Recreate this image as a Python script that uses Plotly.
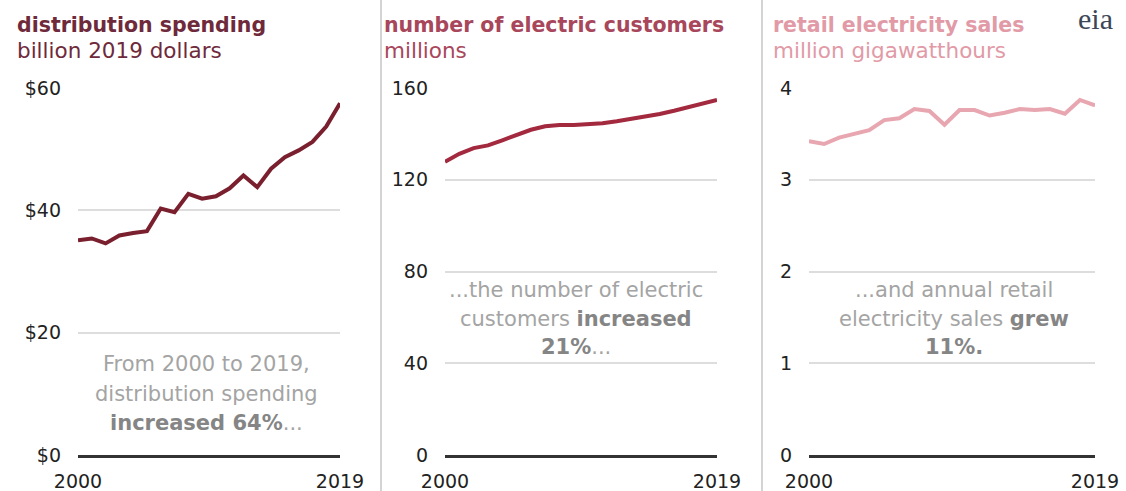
import plotly.graph_objects as go

# ---- data -------------------------------------------------------------
years = list(range(2000, 2020))

spending = [35.1, 35.4, 34.6, 35.9, 36.3, 36.6, 40.3, 39.7, 42.7, 41.9,
            42.3, 43.6, 45.7, 43.8, 46.8, 48.7, 49.8, 51.2, 53.7, 57.5]

customers = [127.8, 131.3, 133.8, 135.0, 137.2, 139.6, 141.8, 143.3, 143.9, 143.9,
             144.3, 144.6, 145.5, 146.5, 147.5, 148.7, 150.1, 151.6, 153.2, 154.8]

sales = [3.42, 3.39, 3.46, 3.50, 3.54, 3.65, 3.67, 3.77, 3.75, 3.60,
         3.76, 3.76, 3.70, 3.73, 3.77, 3.76, 3.77, 3.72, 3.87, 3.81]

x_ticks = [2000, 2019]
y1_ticks = [0, 20, 40, 60]
y1_labels = ["$0", "$20", "$40", "$60"]
y2_ticks = [0, 40, 80, 120, 160]
y3_ticks = [0, 1, 2, 3, 4]

titles = ["distribution spending", "number of electric customers", "retail electricity sales"]
units = ["billion 2019 dollars", "millions", "million gigawatthours"]

# ---- style ------------------------------------------------------------
W, H = 1126, 491
FONT = "DejaVu Sans, Arial, sans-serif"
line_colors = ["#7a1f2e", "#a3293e", "#e8a6b0"]
title_colors = ["#6e2a3b", "#a8465b", "#e19aa6"]
GRID = "#dddddd"
AXIS = "#333333"
NOTE = "#a4a4a4"
NOTE_B = "#858585"

def px_x(p):
    return p / W

def px_y(p):
    return 1 - p / H

# plot areas in pixel units (left, right); shared vertical extent
x_dom_px = [(78, 340), (445, 717), (809, 1095)]
y_dom = [px_y(455), px_y(88)]

fig = go.Figure()

series = [spending, customers, sales]
for i, vals in enumerate(series):
    suffix = "" if i == 0 else str(i + 1)
    fig.add_trace(go.Scatter(
        x=years, y=vals, mode="lines",
        line=dict(color=line_colors[i], width=4),
        xaxis="x" + suffix, yaxis="y" + suffix,
        hoverinfo="skip", showlegend=False,
    ))

y_cfg = [
    dict(range=[0, 60], tickvals=y1_ticks, ticktext=y1_labels),
    dict(range=[0, 160], tickvals=y2_ticks),
    dict(range=[0, 4], tickvals=y3_ticks),
]

for i in range(3):
    suffix = "" if i == 0 else str(i + 1)
    xl, xr = x_dom_px[i]
    fig.update_layout(**{
        "xaxis" + suffix: dict(
            domain=[px_x(xl), px_x(xr)],
            anchor="y" + suffix,
            range=[2000, 2019],
            tickvals=x_ticks,
            showgrid=False, zeroline=False,
            showline=True, linecolor=AXIS, linewidth=2.5,
            ticks="inside", ticklen=6, tickwidth=2, tickcolor=AXIS,
            tickfont=dict(family=FONT, size=19, color="#222222"),
            ticklabelstandoff=7,
            automargin=False,
        ),
        "yaxis" + suffix: dict(
            domain=y_dom,
            anchor="x" + suffix,
            showgrid=True, gridcolor=GRID, gridwidth=1.5,
            zeroline=False, showline=False, ticks="",
            tickfont=dict(family=FONT, size=19, color="#222222"),
            ticklabelstandoff=16,
            automargin=False,
            **y_cfg[i],
        ),
    })

# panel headings
title_x = [15, 382, 771]
ann = []
for i in range(3):
    ann.append(dict(
        xref="paper", yref="paper", x=px_x(title_x[i]), y=px_y(25),
        xanchor="left", yanchor="middle", showarrow=False,
        text="<b>" + titles[i] + "</b>",
        font=dict(family=FONT, size=20.5, color=title_colors[i]),
    ))
    ann.append(dict(
        xref="paper", yref="paper", x=px_x(title_x[i]), y=px_y(51),
        xanchor="left", yanchor="middle", showarrow=False,
        text=units[i],
        font=dict(family=FONT, size=21.5, color=title_colors[i]),
    ))

def b(t):
    return "<b><span style='color:%s'>%s</span></b>" % (NOTE_B, t)

notes = [
    (206, ["From 2000 to 2019,", "distribution spending", b("increased 64%") + "..."]),
    (576, ["...the number of electric", "customers " + b("increased"), b("21%") + "..."]),
    (954, ["...and annual retail", "electricity sales " + b("grew"), b("11%.")]),
]
note_rows = [[364, 394, 423], [290, 319, 347], [290, 319, 347]]
for (cx, lines), rows in zip(notes, note_rows):
    for txt, ry in zip(lines, rows):
        ann.append(dict(
            xref="paper", yref="paper", x=px_x(cx), y=px_y(ry),
            xanchor="center", yanchor="middle", showarrow=False,
            text=txt, font=dict(family=FONT, size=21, color=NOTE),
        ))

# agency wordmark
ann.append(dict(
    xref="paper", yref="paper", x=px_x(1076), y=1,
    xanchor="left", yanchor="top", showarrow=False,
    text="eia", font=dict(family="Liberation Serif, serif", size=30, color="#3c4657"),
))

# panel separators
shapes = []
for sx in (381, 762):
    shapes.append(dict(
        type="line", xref="paper", yref="paper",
        x0=px_x(sx), x1=px_x(sx), y0=0, y1=1,
        line=dict(color="#d4d4d4", width=2),
    ))

fig.update_layout(
    width=W, height=H,
    margin=dict(l=0, r=0, t=0, b=0, pad=0),
    paper_bgcolor="white", plot_bgcolor="white",
    annotations=ann, shapes=shapes,
    showlegend=False,
)

fig.write_html("out.html", include_plotlyjs=True, config={"displayModeBar": False})
